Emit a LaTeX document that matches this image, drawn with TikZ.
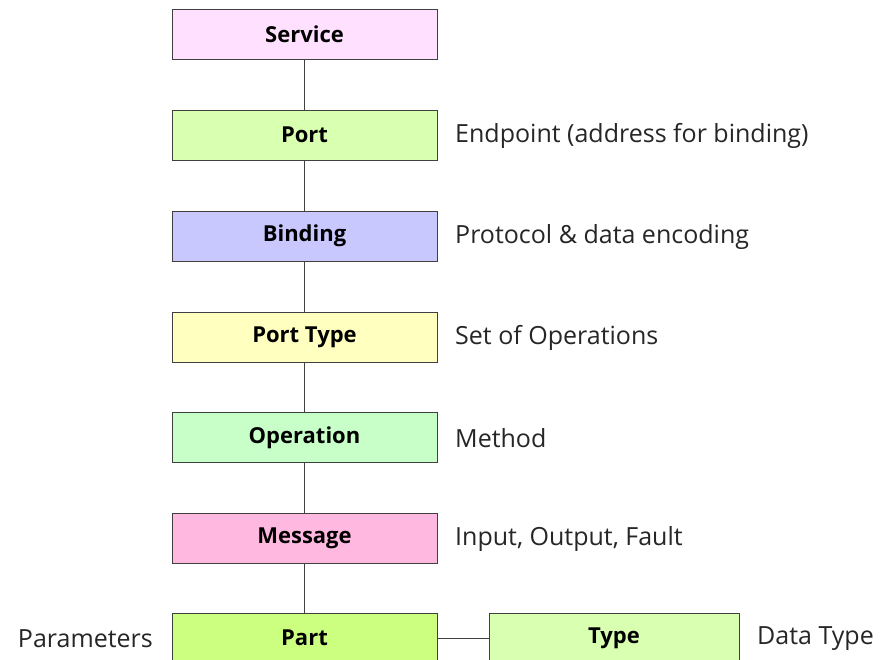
\documentclass[tikz,border=0pt]{standalone}
\usepackage{fontspec}
\setmainfont{Open Sans}
\definecolor{cService}{HTML}{FFE0FF}
\definecolor{cPort}{HTML}{D9FFB0}
\definecolor{cBinding}{HTML}{C8C8FF}
\definecolor{cPortType}{HTML}{FFFFC0}
\definecolor{cOperation}{HTML}{C8FFC8}
\definecolor{cMessage}{HTML}{FFB8E0}
\definecolor{cPart}{HTML}{CCFF80}
\definecolor{cType}{HTML}{D9FFB0}
\definecolor{edge}{HTML}{404040}
\begin{document}
\begin{tikzpicture}[x=1pt,y=-1pt,
  box/.style={draw=edge, line width=0.9pt, minimum width=265pt, minimum height=50pt,
    inner sep=0pt, font=\fontsize{22}{26}\selectfont\bfseries},
  desc/.style={inner sep=0pt, font=\fontsize{25}{29}\selectfont, text=black!85},
  link/.style={draw=edge, line width=0.9pt}]
\useasboundingbox[fill=white] (0,0) rectangle (881,659);
\node[box, fill=cService]   (service)   at (304.5,34)  {Service};
\node[box, fill=cPort]      (port)      at (304.5,135) {Port};
\node[box, fill=cBinding]   (binding)   at (304.5,236) {Binding};
\node[box, fill=cPortType]  (porttype)  at (304.5,337) {Port Type};
\node[box, fill=cOperation] (operation) at (304.5,437.5) {Operation};
\node[box, fill=cMessage]   (message)   at (304.5,538) {Message};
\node[box, fill=cPart]      (part)      at (304.5,638) {Part};
\node[box, fill=cType, minimum width=250pt] (type) at (614,638) {Type};
\draw[link] (service) -- (port);
\draw[link] (port) -- (binding);
\draw[link] (binding) -- (porttype);
\draw[link] (porttype) -- (operation);
\draw[link] (operation) -- (message);
\draw[link] (message) -- (part);
\draw[link] (part) -- (type);
\node[desc, anchor=west] (dport)  at (455,136) {Endpoint (address for binding)};
\node[desc, anchor=west] (dbind)  at (455,237) {Protocol \& data encoding};
\node[desc, anchor=west] (dptype) at (455,338) {Set of Operations};
\node[desc, anchor=west] (doper)  at (455,438.5) {Method};
\node[desc, anchor=west] (dmsg)   at (455,539) {Input, Output, Fault};
\node[desc, anchor=east] (dpart)  at (153,639) {Parameters};
\node[desc, anchor=west] (dtype)  at (757,639) {Data Type};
\end{tikzpicture}
\end{document}
